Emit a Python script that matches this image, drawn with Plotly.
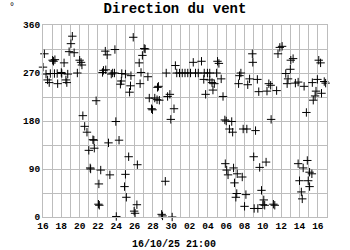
import pandas as pd
import plotly.graph_objects as go

# Wind direction readings: time offset (days since 16/09/2025 00:00) and direction (degrees)
jours = [
    0.00, 0.15, 0.33, 0.50, 0.68, 0.80, 1.05, 1.15, 1.25, 1.30, 1.55, 1.60,
    2.00, 2.05, 2.30, 2.50, 2.60, 2.70, 2.85, 3.05, 3.20, 3.40, 3.75, 4.00,
    4.15, 4.25, 4.35, 4.55, 4.80, 5.00, 5.15, 5.20, 5.45, 5.55, 5.60, 5.80,
    6.05, 6.10, 6.15, 6.30, 6.50, 6.60, 6.80, 6.85, 7.00, 7.15, 7.30, 7.45,
    7.60, 7.80, 7.85, 7.95, 8.00, 8.30, 8.45, 8.55, 8.60, 8.90, 9.00, 9.00,
    9.10, 9.35, 9.45, 9.55, 9.60, 9.85, 9.95, 10.05, 10.25, 10.30, 10.50, 10.60,
    10.70, 10.85, 11.05, 11.15, 11.45, 11.60, 11.85, 11.95, 12.20, 12.45, 12.50, 12.60,
    12.70, 12.95, 13.05, 13.35, 13.45, 13.60, 13.85, 13.95, 14.10, 14.30, 14.45, 14.60,
    14.90, 15.20, 15.50, 15.80, 16.10, 16.40, 16.65, 16.95, 17.30, 17.55, 17.60, 17.75,
    17.95, 18.20, 18.20, 18.45, 18.55, 18.70, 18.95, 19.05, 19.20, 19.45, 19.65, 19.85,
    19.90, 20.00, 20.05, 20.20, 20.35, 20.60, 20.70, 20.80, 20.90, 21.05, 21.15, 21.20,
    21.35, 21.45, 21.60, 21.75, 21.85, 22.00, 22.15, 22.25, 22.35, 22.55, 22.85, 22.90,
    23.00, 23.05, 23.20, 23.40, 23.45, 23.55, 23.65, 23.85, 24.00, 24.10, 24.20, 24.35,
    24.45, 24.65, 24.85, 24.90, 25.15, 25.30, 25.50, 25.65, 25.85, 26.10, 26.50, 26.65,
    26.75, 27.00, 27.05, 27.30, 27.55, 27.85, 27.85, 28.00, 28.20, 28.30, 28.40, 28.50,
    28.75, 28.85, 28.95, 29.10, 29.10, 29.35, 29.40, 29.50, 29.70, 29.80, 29.95, 30.10,
    30.30, 30.40, 30.70, 30.85,
]
direction = [
    281, 306, 268, 257, 252, 269, 294, 292, 269, 295, 269, 250,
    271, 269, 289, 257, 252, 268, 310, 325, 339, 308, 270, 294,
    290, 285, 190, 170, 159, 125, 92, 90, 145, 144, 129, 218,
    24, 62, 22, 88, 271, 275, 311, 276, 304, 139, 79, 268,
    270, 270, 314, 179, 1, 144, 249, 255, 269, 57, 80, 268,
    37, 113, 234, 246, 265, 337, 11, 7, 23, 98, 289, 250,
    271, 303, 316, 315, 263, 223, 203, 201, 223, 220, 243, 245,
    219, 5, 2, 67, 270, 226, 230, 183, 0, 203, 284, 270,
    270, 270, 270, 270, 270, 290, 270, 270, 292, 258, 270, 230,
    270, 270, 257, 252, 238, 250, 270, 292, 288, 259, 226, 182,
    100, 180, 88, 79, 165, 179, 159, 92, 64, 37, 44, 81,
    250, 265, 270, 75, 165, 20, 42, 165, 248, 259, 306, 290,
    113, 16, 162, 258, 16, 235, 93, 50, 23, 32, 22, 103,
    236, 250, 247, 183, 24, 22, 237, 306, 318, 320, 269, 250,
    259, 277, 294, 297, 251, 253, 100, 68, 47, 34, 92, 245,
    196, 106, 68, 84, 57, 81, 252, 219, 227, 236, 258, 294,
    289, 232, 254, 251,
]

debut = pd.Timestamp("2025-09-16")
dates = debut + pd.to_timedelta(jours, unit="D")

y_ticks = [0, 90, 180, 270, 360]

grid = "#bdbdbd"
police = "Liberation Mono"

fig = go.Figure(
    go.Scatter(
        x=dates,
        y=direction,
        mode="markers",
        marker=dict(symbol="cross-thin", size=6, line=dict(width=1, color="black")),
        cliponaxis=False,
        hoverinfo="x+y",
    )
)

fig.update_layout(
    width=350,
    height=250,
    margin=dict(l=43, r=23, t=25, b=33),
    paper_bgcolor="white",
    plot_bgcolor="white",
    showlegend=False,
    font=dict(family=police, size=10, color="black"),
    title=dict(
        text="<b>Direction du vent</b>",
        x=0.5,
        xanchor="center",
        y=1 - 8 / 250,
        yanchor="middle",
        font=dict(family=police, size=14, color="black"),
    ),
    annotations=[
        dict(text="°", xref="paper", yref="paper", x=-31 / 284, y=1 + 17 / 192,
             xanchor="center", yanchor="middle", showarrow=False,
             font=dict(family=police, size=10, color="black")),
        dict(text="<b>16/10/25 21:00</b>", xref="paper", yref="paper", x=0.46,
             y=-27 / 192, xanchor="center", yanchor="middle", showarrow=False,
             font=dict(family=police, size=10, color="black")),
    ],
)

fig.update_xaxes(
    type="date",
    range=[debut, debut + pd.Timedelta(days=31)],
    tick0=debut,
    dtick=2 * 86400000,
    tickformat="<b>%d</b>",
    ticks="",
    tickfont=dict(family=police, size=9.5, color="black"),
    showgrid=True,
    gridcolor=grid,
    gridwidth=1,
    minor=dict(dtick=86400000, tick0=debut, showgrid=True, gridcolor=grid, gridwidth=1),
    showline=True,
    linecolor=grid,
    linewidth=1,
    mirror=True,
    zeroline=False,
)

fig.update_yaxes(
    range=[0, 360],
    tickvals=y_ticks,
    ticktext=[f"<b>{v}</b>" for v in y_ticks],
    ticks="",
    tickfont=dict(family=police, size=9.5, color="black"),
    showgrid=True,
    gridcolor=grid,
    gridwidth=1,
    minor=dict(dtick=45, tick0=0, showgrid=True, gridcolor=grid, gridwidth=1),
    showline=True,
    linecolor=grid,
    linewidth=1,
    mirror=True,
    zeroline=False,
)

fig.write_html("out.html")
